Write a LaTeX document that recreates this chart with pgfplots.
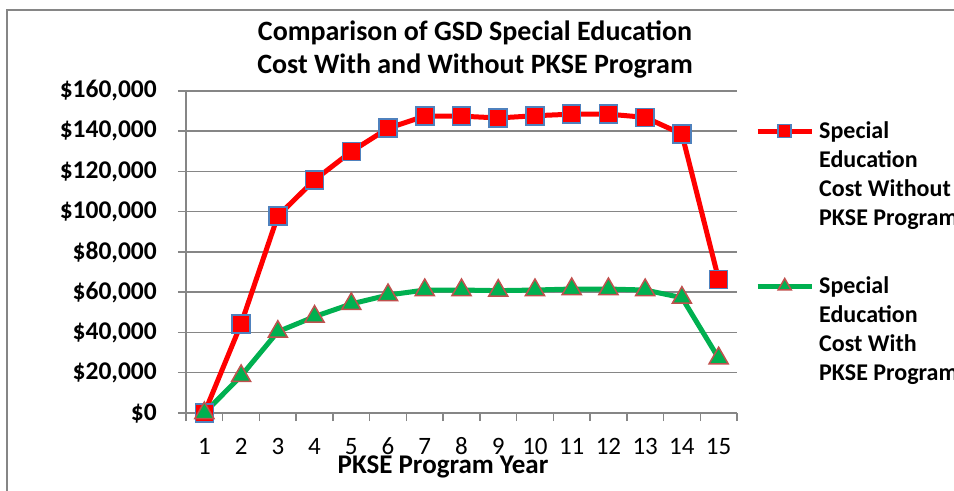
\documentclass[border=0pt]{standalone}
\usepackage{fontspec}
\setmainfont{Carlito}
\usepackage{pgfplots}
\pgfplotsset{compat=1.18}
\definecolor{exred}{RGB}{255,0,0}
\definecolor{exgreen}{RGB}{0,176,80}
\definecolor{exblue}{RGB}{79,129,189}
\definecolor{exred2}{RGB}{192,80,77}
\definecolor{gridc}{RGB}{134,134,134}
\newcommand{\titlefont}{\fontsize{28bp}{33bp}\selectfont}
\newcommand{\xlabfont}{\fontsize{27bp}{32bp}\selectfont}
\newcommand{\ytfont}{\fontsize{25.5bp}{30bp}\selectfont}
\newcommand{\xtfont}{\fontsize{25bp}{30bp}\selectfont}
\newcommand{\legfont}{\fontsize{24bp}{29bp}\selectfont}
\begin{document}
\begin{tikzpicture}
\useasboundingbox (0,0) rectangle (954bp,491bp);
\draw[gridc, line width=1.5bp] (7bp,-20bp) -- (7bp,481bp) -- (1000bp,481bp);
\node[font=\titlefont\bfseries, anchor=base] at (475bp,450bp) {Comparison of GSD Special Education};
\node[font=\titlefont\bfseries, anchor=base] at (475bp,417bp) {Cost With and Without PKSE Program};
\node[font=\xlabfont\bfseries, anchor=base] at (443bp,18bp) {PKSE Program Year};
\begin{axis}[
  at={(186bp,78bp)}, anchor=south west,
  scale only axis, width=551bp, height=322bp,
  xmin=0.5, xmax=15.5, ymin=0, ymax=160000,
  axis x line*=bottom, axis y line*=left,
  axis line style={gridc, line width=1.5bp},
  xtick={0.5,1.5,2.5,3.5,4.5,5.5,6.5,7.5,8.5,9.5,10.5,11.5,12.5,13.5,14.5,15.5},
  xticklabels={1,2,3,4,5,6,7,8,9,10,11,12,13,14,15},
  x tick label as interval,
  ytick={0,20000,40000,60000,80000,100000,120000,140000,160000},
  scaled y ticks=false,
  yticklabel={\bfseries\$\pgfmathprintnumber[fixed,1000 sep={,},assume math mode=true]{\tick}},
  xticklabel style={font=\xtfont, anchor=base, inner sep=0pt, yshift=-33bp},
  yticklabel style={font=\ytfont, anchor=east, inner sep=0pt, xshift=-21bp},
  ymajorgrids, grid style={gridc, line width=1.5bp},
  tick align=outside, major tick length=8bp,
  tick style={gridc, line width=1.5bp},
  clip=false,
  legend cell align=left,
  legend style={draw=none, fill=none, inner sep=0pt, font=\legfont\bfseries,
    at={(axis description cs:1.0327,0.917)}, anchor=north west,
    nodes={inner sep=0pt}, cells={anchor=base west}, column sep=5bp, row sep=133bp},
  legend image code/.code={\draw[mark repeat=2,mark phase=2,#1] plot coordinates {(0bp,7bp) (27bp,7bp) (54bp,7bp)};},
]
\addplot[exred, line width=5bp, mark=square*, mark size=9bp,
  mark options={fill=exred, draw=exblue, line width=1.5bp},
  legend image post style={mark size=6.5bp}]
  coordinates {(1,0) (2,44300) (3,97900) (4,115800) (5,129900) (6,141500) (7,147500) (8,147500) (9,146600) (10,147700) (11,148500) (12,148500) (13,146900) (14,138600) (15,66400)};
\addlegendentry{\begin{tabular}[t]{@{}l@{}}Special\\Education\\Cost Without\\PKSE Program\end{tabular}}
\addplot[exgreen, line width=5bp, mark=triangle*, mark size=11bp,
  mark options={fill=exgreen, draw=exred2, line width=1.5bp},
  legend image post style={mark size=7.5bp}]
  coordinates {(1,0) (2,18400) (3,40400) (4,47900) (5,54200) (6,58600) (7,61100) (8,61100) (9,60800) (10,61100) (11,61600) (12,61600) (13,61100) (14,57300) (15,27200)};
\addlegendentry{\begin{tabular}[t]{@{}l@{}}Special\\Education\\Cost With\\PKSE Program\end{tabular}}
\end{axis}
\end{tikzpicture}
\end{document}
